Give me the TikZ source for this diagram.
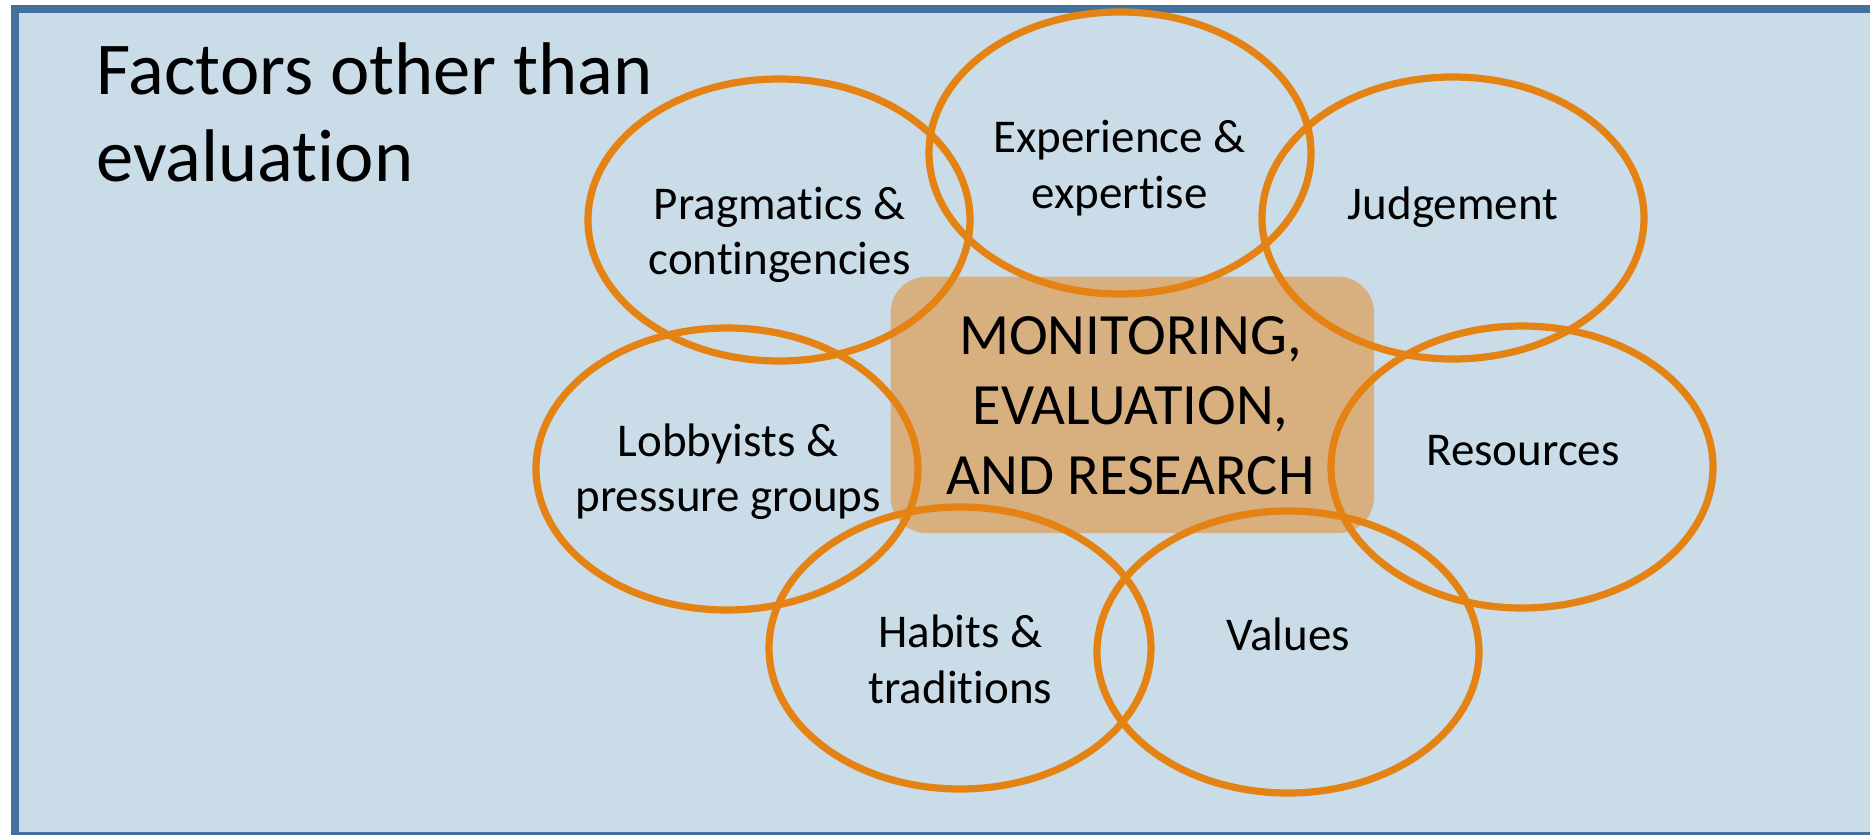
\documentclass[tikz,border=0pt]{standalone}
\usepackage{fontspec}
\setmainfont{Carlito}[Ligatures={NoCommon,NoRare,NoContextual}]
\usetikzlibrary{shapes.geometric}
\definecolor{bgblue}{RGB}{202,220,232}
\definecolor{frameblue}{RGB}{65,113,156}
\definecolor{ringorange}{RGB}{228,130,20}
\definecolor{tan}{RGB}{216,175,127}
\tikzset{
  ring/.style={ellipse, draw=ringorange, line width=3.6pt, inner sep=0pt,
    minimum width=191pt, minimum height=141pt},
  lbl/.style={anchor=base, inner sep=0pt, font=\fontsize{23.5pt}{28pt}\selectfont},
  corelbl/.style={anchor=base, inner sep=0pt, font=\fontsize{29.25pt}{35pt}\selectfont},
  titlelbl/.style={anchor=base west, inner sep=0pt, font=\fontsize{37.3pt}{44pt}\selectfont},
  corebox/.style={rectangle, fill=tan, rounded corners=18pt, inner sep=0pt,
    minimum width=241.7pt, minimum height=128.2pt}
}
\begin{document}
\begin{tikzpicture}[x=0.5pt,y=-0.5pt]
\useasboundingbox (0,0) rectangle (1870,835);
\fill[white] (0,0) rectangle (1870,835);
% frame
\draw[frameblue, fill=bgblue, line width=3.85pt] (15,8.8) rectangle (1890,835.8);
% title
\node[titlelbl] (t1) at (96,94) {Factors other than};
\node[titlelbl] (t2) at (96,181) {evaluation};
% centre box
\node[corebox] (core) at (1132.3,404.9) {};
% rings
\node[ring] (eP) at (779,220) {};
\node[ring] (eE) at (1120,153) {};
\node[ring] (eJ) at (1453,218) {};
\node[ring] (eL) at (727,469) {};
\node[ring] (eR) at (1522,467) {};
\node[ring] (eH) at (960,648) {};
\node[ring] (eV) at (1288,652) {};
% centre text
\node[corelbl] (c1) at (1130.5,354) {MONITORING,};
\node[corelbl] (c2) at (1130.5,424) {EVALUATION,};
\node[corelbl] (c3) at (1130.5,494) {AND RESEARCH};
% labels
\node[lbl] (p1) at (779.5,219) {Pragmatics \&};
\node[lbl] (p2) at (779.5,274) {contingencies};
\node[lbl] (x1) at (1119.5,152) {Experience \&};
\node[lbl] (x2) at (1119.5,208) {expertise};
\node[lbl] (j1) at (1453,219) {Judgement};
\node[lbl] (l1) at (728,456) {Lobbyists \&};
\node[lbl] (l2) at (728,511) {pressure groups};
\node[lbl] (r1) at (1523,465) {Resources};
\node[lbl] (h1) at (960.5,647) {Habits \&};
\node[lbl] (h2) at (960.5,703) {traditions};
\node[lbl] (v1) at (1288,650) {Values};
\end{tikzpicture}
\end{document}
